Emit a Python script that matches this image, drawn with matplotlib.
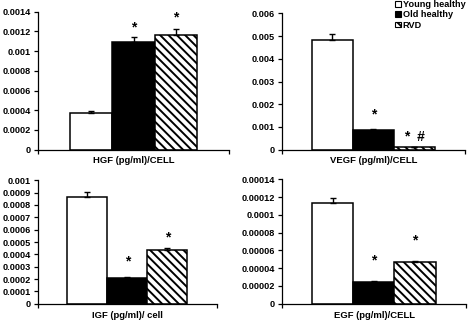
import matplotlib
matplotlib.use('Agg')
import matplotlib.pyplot as plt
import numpy as np

plt.rcParams['font.family'] = ['Liberation Sans', 'DejaVu Sans']
plt.rcParams['font.weight'] = 'bold'
plt.rcParams['hatch.linewidth'] = 1.4

groups = ['Young healthy', 'Old healthy', 'RVD']

hgf = [0.000375, 0.00109, 0.001165]
hgf_err = [0.00002, 0.00005, 0.00006]
vegf = [0.00484, 0.00088, 0.00011]
vegf_err = [0.00026, 0.00002, 0.0]
igf = [0.000865, 0.00021, 0.000437]
igf_err = [0.00004, 0.000004, 0.000016]
egf = [0.0001135, 0.0000248, 0.0000469]
egf_err = [0.0000055, 0.0000008, 0.0000015]

# significance marks: (bar index, text, y in data units)
hgf_marks = [(1, '*', 0.001245), (2, '*', 0.00134)]
vegf_marks = [(1, '*', 0.00153), (2, '*  #', 0.00057)]
igf_marks = [(1, '*', 0.00034), (2, '*', 0.00054)]
egf_marks = [(1, '*', 0.0000488), (2, '*', 0.0000706)]

hgf_ticks = [0, 0.0002, 0.0004, 0.0006, 0.0008, 0.001, 0.0012, 0.0014]
hgf_ticklabels = ['0', '0.0002', '0.0004', '0.0006', '0.0008', '0.001', '0.0012', '0.0014']
vegf_ticks = [0, 0.001, 0.002, 0.003, 0.004, 0.005, 0.006]
vegf_ticklabels = ['0', '0.001', '0.002', '0.003', '0.004', '0.005', '0.006']
igf_ticks = [0, 0.0001, 0.0002, 0.0003, 0.0004, 0.0005, 0.0006, 0.0007, 0.0008, 0.0009, 0.001]
igf_ticklabels = ['0', '0.0001', '0.0002', '0.0003', '0.0004', '0.0005', '0.0006',
                  '0.0007', '0.0008', '0.0009', '0.001']
egf_ticks = [0, 0.00002, 0.00004, 0.00006, 0.00008, 0.0001, 0.00012, 0.00014]
egf_ticklabels = ['0', '0.00002', '0.00004', '0.00006', '0.00008', '0.0001', '0.00012', '0.00014']

W, H = 472, 322
fig = plt.figure(figsize=(W / 100, H / 100), dpi=100)


def px_axes(left, right, top, bottom):
    return fig.add_axes([left / W, 1 - bottom / H, (right - left) / W, (bottom - top) / H])


fills = ['white', 'black', 'white']
hatches = [None, None, '\\\\\\\\']


def panel(ax, vals, errs, marks, ticks, ticklabels):
    x = np.arange(len(vals)) - 1
    bars = []
    for i in range(len(vals)):
        b = ax.bar(x[i], vals[i], width=1.0, color=fills[i], edgecolor='black',
                   linewidth=1.1, hatch=hatches[i], label=groups[i], zorder=2)
        bars.append(b)
    ax.errorbar(x, vals, yerr=[np.zeros(len(errs)), errs], fmt='none', ecolor='black',
                elinewidth=1.0, capsize=2.5, capthick=1.0, zorder=3)
    for i, txt, yy in marks:
        ax.text(x[i], yy, txt, ha='center', va='center', fontsize=10, fontweight='bold')
    ax.set_xlim(-2.24, 2.24)
    ax.set_ylim(ticks[0], ticks[-1])
    ax.set_yticks(ticks)
    ax.set_yticklabels(ticklabels)
    ax.set_xticks([-2.24, 2.24])
    ax.set_xticklabels([])
    ax.tick_params(axis='both', direction='out', length=3, width=0.9, labelsize=6.6, pad=2)
    for s in ['top', 'right']:
        ax.spines[s].set_visible(False)
    for s in ['left', 'bottom']:
        ax.spines[s].set_linewidth(0.9)
    for lab in ax.get_yticklabels():
        lab.set_fontweight('bold')
    return bars


ax1 = px_axes(38, 229, 11.7, 149.7)
panel(ax1, hgf, hgf_err, hgf_marks, hgf_ticks, hgf_ticklabels)
ax2 = px_axes(281.7, 465, 13.3, 149.7)
bars = panel(ax2, vegf, vegf_err, vegf_marks, vegf_ticks, vegf_ticklabels)
ax3 = px_axes(37.7, 217, 180.3, 303.7)
panel(ax3, igf, igf_err, igf_marks, igf_ticks, igf_ticklabels)
ax4 = px_axes(281.7, 466, 179.3, 303.7)
panel(ax4, egf, egf_err, egf_marks, egf_ticks, egf_ticklabels)

fig.text(134 / W, 1 - 160 / H, 'HGF (pg/ml)/CELL', ha='center', va='center', fontsize=6.8, fontweight='bold')
fig.text(374 / W, 1 - 160 / H, 'VEGF (pg/ml)/CELL', ha='center', va='center', fontsize=6.8, fontweight='bold')
fig.text(127.5 / W, 1 - 316 / H, 'IGF (pg/ml)/ cell', ha='center', va='center', fontsize=6.8, fontweight='bold')
fig.text(374 / W, 1 - 316 / H, 'EGF (pg/ml)/CELL', ha='center', va='center', fontsize=6.8, fontweight='bold')

leg = fig.legend(handles=bars, labels=groups, loc='upper left',
                 bbox_to_anchor=(395 / W, 1 - 0 / H), frameon=False, fontsize=6.6,
                 handlelength=0.6, handleheight=0.6, handletextpad=0.25,
                 labelspacing=0.15, borderpad=0.0, borderaxespad=0.0)
for h in leg.legend_handles:
    h.set_linewidth(0.8)

fig.savefig('out.png', dpi=100)
